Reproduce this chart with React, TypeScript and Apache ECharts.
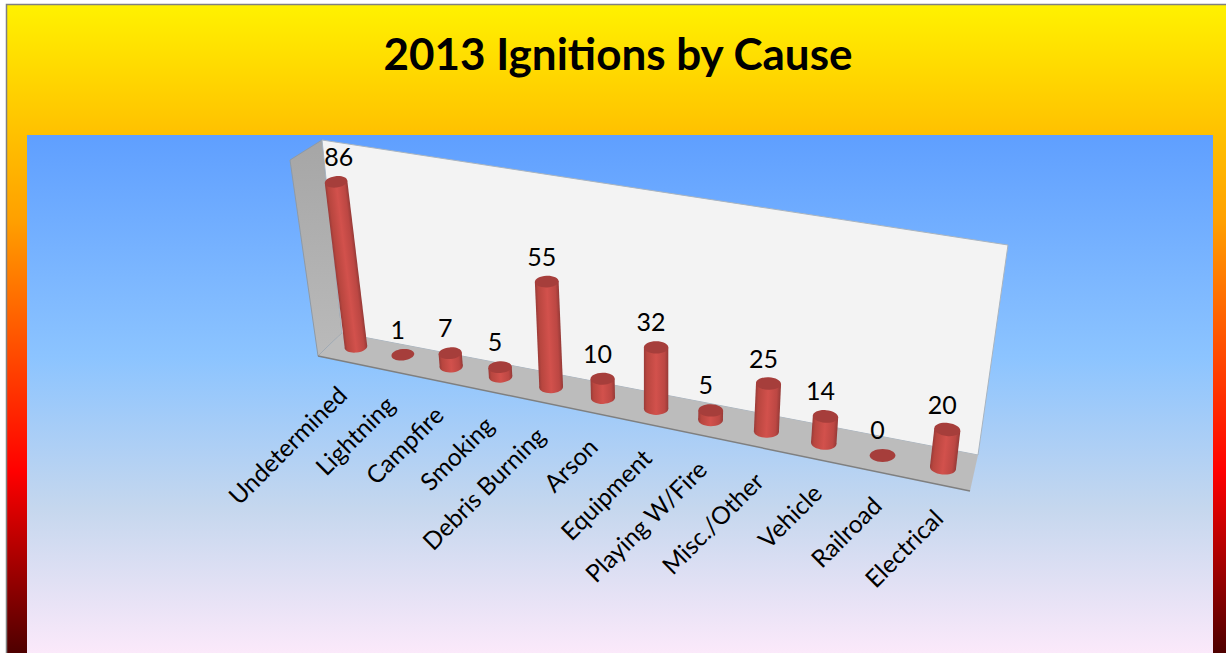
import React, { useEffect, useRef } from "react";
import * as echarts from "echarts";

const categories = ["Undetermined", "Lightning", "Campfire", "Smoking", "Debris Burning", "Arson", "Equipment", "Playing W/Fire", "Misc./Other", "Vehicle", "Railroad", "Electrical"];
const ignitions = [86, 1, 7, 5, 55, 10, 32, 5, 25, 14, 0, 20];
const chartTitle = "2013 Ignitions by Cause";

const FONT = "Lato, Carlito, 'Open Sans', sans-serif";
const W = 1226;
const H = 653;

// flat grid that the value and category scales map to; project() puts it in the tilted box
const GRID = { left: 100, top: 100, width: 1100, height: 192 };

function project(X: number, Y: number) {
  const n = categories.length - 1;
  const t = ((X - GRID.left) / GRID.width) * n;
  const h = GRID.top + GRID.height - Y;
  const bx = 356 + (46.52 * t) / (1 - 0.01165 * t);
  const by = 347 + (bx - 356) * 0.206;
  const lean = (bx - 657) * 0.0004;
  return { bx, by, tx: bx + h * lean, ty: by - h };
}

const sideFill = () =>
  new echarts.graphic.LinearGradient(0, 0, 1, 0, [
    { offset: 0, color: "#9a3b38" },
    { offset: 0.12, color: "#b8463f" },
    { offset: 0.5, color: "#d2514c" },
    { offset: 0.85, color: "#bc4743" },
    { offset: 1, color: "#963a37" },
  ]);

function renderItem(params: any, api: any) {
  const i = api.value(0);
  const v = api.value(1);
  const base = api.coord([i, 0]);
  const top = api.coord([i, v]);
  const pb = project(base[0], base[1]);
  const pt = project(top[0], top[1]);
  const rx = 11.3 + (pb.bx - 356) * 0.003;
  const ry = rx * 0.5;
  const len = Math.hypot(pt.tx - pb.bx, pt.ty - pb.by);
  const rotation = Math.atan2(pb.bx - pt.tx, pb.by - pt.ty);
  const body: any[] = [];
  if (v > 1) {
    body.push({ type: "ellipse", shape: { cx: 0, cy: 0, rx, ry }, style: { fill: sideFill() } });
    body.push({ type: "rect", shape: { x: -rx, y: -len, width: 2 * rx, height: len }, style: { fill: sideFill() } });
  }
  body.push({ type: "ellipse", shape: { cx: 0, cy: -len, rx, ry }, style: { fill: "#a63e3b" } });
  const extra = Math.max(0, v - 55) * 0.25;
  return {
    type: "group",
    children: [
      { type: "group", x: pb.bx, y: pb.by, rotation, children: body },
      {
        type: "text",
        x: pt.tx - 5 + extra,
        y: pt.ty - 26,
        style: { text: String(ignitions[i]), x: 0, y: 0, align: "center", verticalAlign: "middle", fontFamily: FONT, fontSize: 25, fill: "#000" },
      },
      {
        type: "text",
        x: pb.bx - 11 + (pb.bx - 550) * 0.0155,
        y: pb.by + 44 + (pb.bx - 550) * 0.004,
        rotation: Math.PI / 4,
        style: { text: categories[i], x: 0, y: 0, align: "right", verticalAlign: "middle", fontFamily: FONT, fontSize: 24.5, fill: "#000" },
      },
    ],
  };
}

export default function App() {
  const ref = useRef<HTMLDivElement>(null);
  useEffect(() => {
    document.body.style.margin = "0";
    const chart = echarts.init(ref.current!, null, { renderer: "svg" });
    chart.setOption({
      animation: false,
      title: {
        text: chartTitle,
        left: 613,
        top: 26,
        textAlign: "center",
        textStyle: { fontFamily: FONT, fontWeight: "bold", fontSize: 44, color: "#000" },
      },
      graphic: [
        { type: "rect", z: -10, shape: { x: 0, y: 0, width: W, height: H }, style: { fill: "#fff" } },
        {
          type: "rect", z: -9, shape: { x: 6.5, y: 4.5, width: W, height: H },
          style: {
            stroke: "#808080", lineWidth: 1.5,
            fill: new echarts.graphic.LinearGradient(0, 0, 0, 1, [
              { offset: 0, color: "#fff200" },
              { offset: 0.33, color: "#ffa000" },
              { offset: 0.715, color: "#ff0000" },
              { offset: 1, color: "#4a0000" },
            ]),
          },
        },
        {
          type: "rect", z: -8, shape: { x: 27, y: 135, width: 1186, height: 518 },
          style: {
            fill: new echarts.graphic.LinearGradient(0, 0, 0, 1, [
              { offset: 0, color: "#5f9fff" },
              { offset: 0.43, color: "#8cc4ff" },
              { offset: 0.72, color: "#c5d7ee" },
              { offset: 1, color: "#fbe9fa" },
            ]),
          },
        },
        {
          type: "polygon", z: -7, shape: { points: [[322, 140], [290, 160], [318, 356], [342, 333]] },
          style: {
            fill: new echarts.graphic.LinearGradient(0, 0, 0, 1, [
              { offset: 0, color: "#a6a6a6" },
              { offset: 1, color: "#bababa" },
            ]),
            stroke: "#8f9aa5", lineWidth: 1,
          },
        },
        { type: "polygon", z: -7, shape: { points: [[322, 140], [1008, 245], [978, 455], [342, 333]] }, style: { fill: "#f3f3f3", stroke: "#a9b4bf", lineWidth: 1 } },
        { type: "polygon", z: -7, shape: { points: [[342, 333], [978, 455], [970, 491], [318, 356]] }, style: { fill: "#bcbcbc" } },
        { type: "line", z: -6, shape: { x1: 318, y1: 356, x2: 970, y2: 491 }, style: { stroke: "#7f7f7f", lineWidth: 1.5 } },
      ],
      grid: GRID,
      xAxis: { type: "category", data: categories, boundaryGap: false, show: false },
      yAxis: { type: "value", min: 0, max: 100, show: false },
      series: [
        {
          type: "custom",
          renderItem,
          clip: false,
          silent: true,
          data: ignitions.map((v, i) => [i, v]),
          encode: { x: 0, y: 1 },
        },
      ],
    });
    return () => chart.dispose();
  }, []);
  return <div ref={ref} style={{ position: "absolute", left: 0, top: 0, width: W, height: H }} />;
}
